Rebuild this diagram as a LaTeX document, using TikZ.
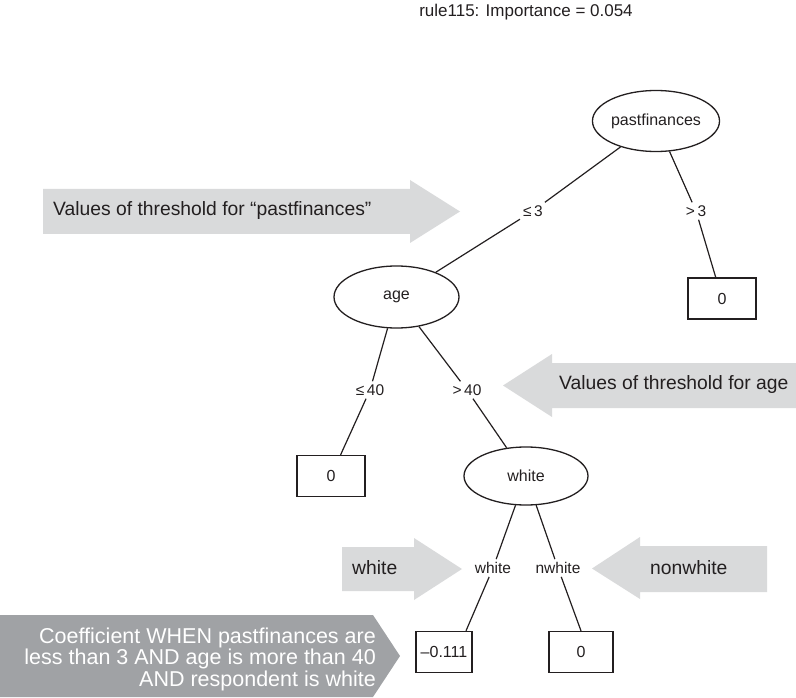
\documentclass[tikz,border=0pt]{standalone}
\usepackage{fontspec}
\setmainfont{Liberation Sans}
\usetikzlibrary{shapes.geometric}
\definecolor{lightarrow}{HTML}{D9DADB}
\definecolor{darkarrow}{HTML}{A0A2A5}
\definecolor{txt}{HTML}{231F20}
\begin{document}
\begin{tikzpicture}[x=1pt,y=-1pt,
  ell/.style={draw=txt, line width=1.3pt, ellipse, inner sep=0pt, text=txt,
    font=\fontsize{16}{19}\selectfont},
  leaf/.style={draw=txt, line width=1.3pt, rectangle, inner sep=0pt, text=txt,
    minimum height=41pt, font=\fontsize{16}{19}\selectfont},
  lab/.style={inner sep=3pt, text=txt, font=\fontsize{15.5}{18}\selectfont},
  edge/.style={draw=txt, line width=1.2pt},
  arrowtxt/.style={inner sep=0pt, anchor=west, text=txt, font=\fontsize{19.3}{22}\selectfont}]
\useasboundingbox (0,0) rectangle (796,698);

% title
\node[inner sep=0pt, text=txt, font=\fontsize{17}{20}\selectfont] (title) at (526,12) {rule115: Importance = 0.054};

% annotation arrows
\fill[lightarrow] (43,189) -- (410,189) -- (410,180) -- (460,211.5) -- (410,243) -- (410,234) -- (43,234) -- cycle;
\node[arrowtxt] (a1) at (53,211) {Values of threshold for “pastfinances”};

\fill[lightarrow] (796,363) -- (552,363) -- (552,354) -- (503,385.5) -- (552,417) -- (552,408) -- (796,408) -- cycle;
\node[arrowtxt] (a2) at (559,385) {Values of threshold for age};

\fill[lightarrow] (342,547) -- (414,547) -- (414,538) -- (462,569) -- (414,600) -- (414,591) -- (342,591) -- cycle;
\node[arrowtxt] (a3) at (352,568) {white};

\fill[lightarrow] (767,546) -- (640,546) -- (640,537) -- (592,568.5) -- (640,599) -- (640,592) -- (767,592) -- cycle;
\node[arrowtxt] (a4) at (650,568) {nonwhite};

\fill[darkarrow] (0,615) -- (373,615) -- (400,656) -- (373,697) -- (0,697) -- cycle;
\node[inner sep=0pt, anchor=east, align=right, text=white, font=\fontsize{21.5}{21.5}\selectfont] (a5) at (376,659)
  {Coefficient WHEN pastfinances are\\less than 3 AND age is more than 40\\AND respondent is white};

% tree nodes
\node[ell, minimum width=126pt, minimum height=61pt] (pf) at (656,121) {pastfinances};
\node[ell, minimum width=125pt, minimum height=62pt] (age) at (396.5,297) {age};
\node[ell, minimum width=124pt, minimum height=58pt] (wh) at (526,476) {white};
\node[leaf, minimum width=68pt] (b1) at (722,298.5) {0};
\node[leaf, minimum width=68pt] (b2) at (331,476) {0};
\node[leaf, minimum width=56pt] (b3) at (444,652) {–0.111};
\node[leaf, minimum width=64pt] (b4) at (581,652) {0};

% edge labels
\node[lab] (l1) at (533,211) {≤\,3};
\node[lab] (l2) at (696,211) {>\,3};
\node[lab] (l3) at (370,390) {≤\,40};
\node[lab] (l4) at (467,390) {>\,40};
\node[lab] (l5) at (493,568) {white};
\node[lab] (l6) at (558,568) {nwhite};

% edges
\draw[edge] (pf) -- (l1);
\draw[edge] (l1) -- (age);
\draw[edge] (pf) -- (l2);
\draw[edge] (l2) -- (b1);
\draw[edge] (age) -- (l3);
\draw[edge] (l3) -- (b2);
\draw[edge] (age) -- (l4);
\draw[edge] (l4) -- (wh);
\draw[edge] (wh) -- (l5);
\draw[edge] (l5) -- ([xshift=22pt]b3.north);
\draw[edge] (wh) -- (l6);
\draw[edge] (l6) -- (b4.north);
\end{tikzpicture}
\end{document}
